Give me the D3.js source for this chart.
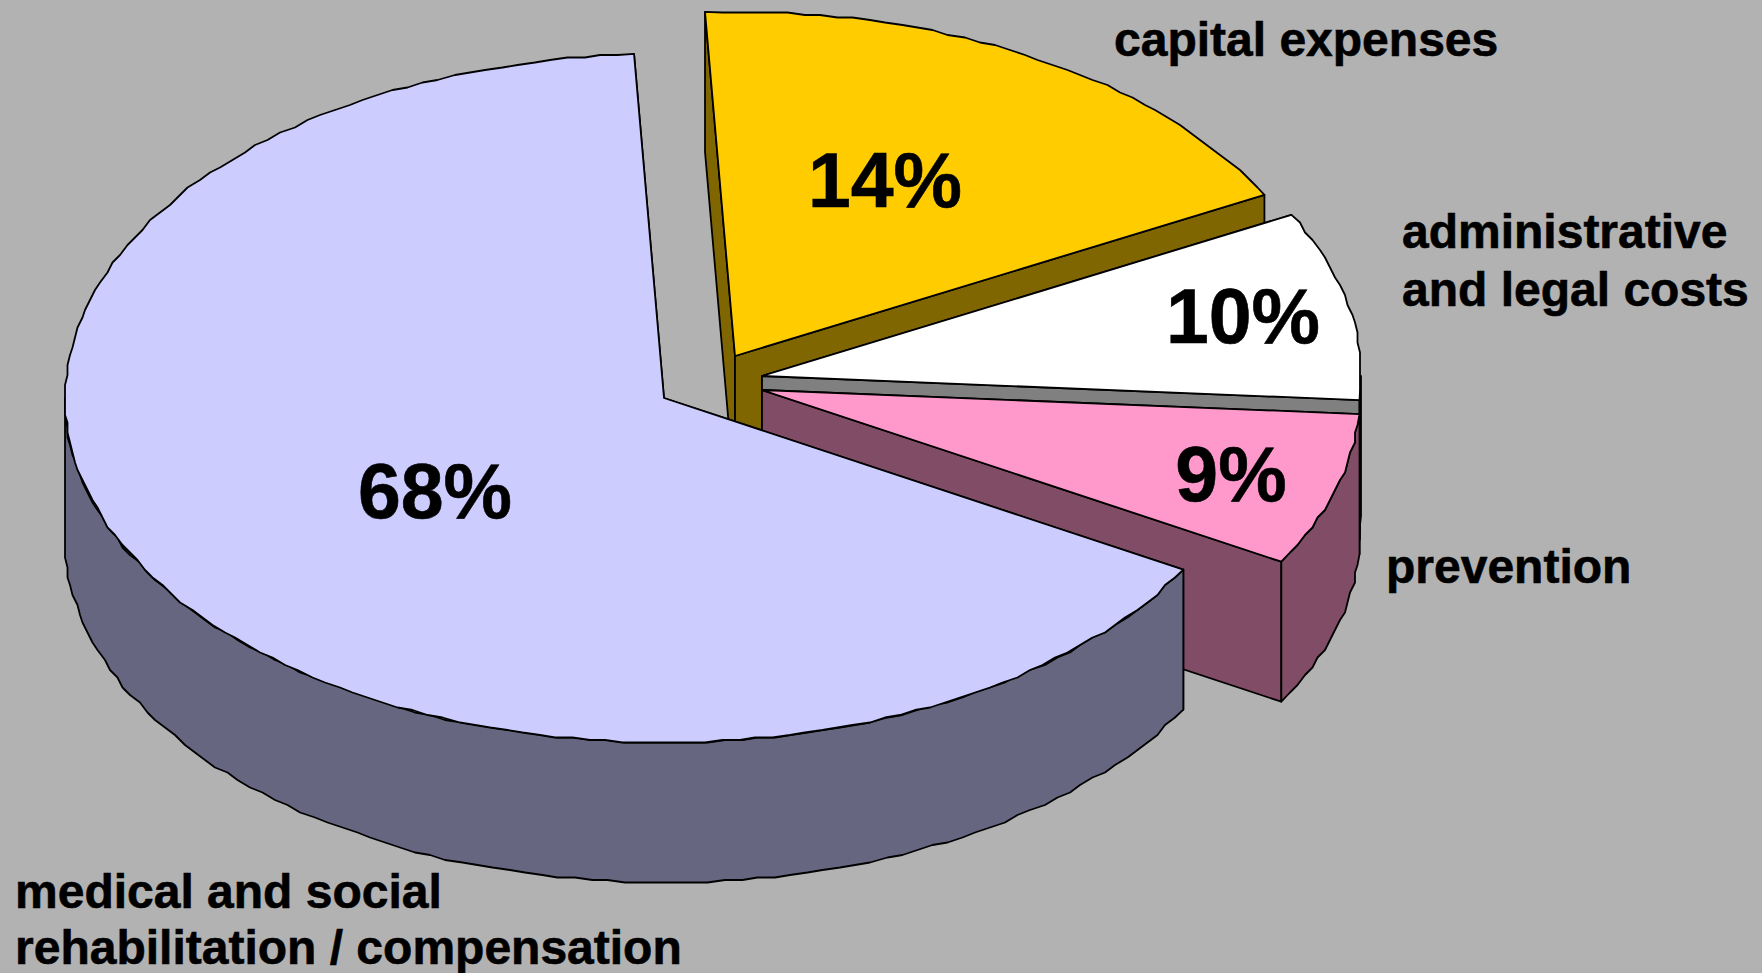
<!DOCTYPE html>
<html>
<head>
<meta charset="utf-8">
<style>
html,body{margin:0;padding:0;background:#B2B2B2;overflow:hidden}
svg{display:block}
text{font-family:"Liberation Sans",Arial,sans-serif;font-weight:bold;fill:#000;stroke:#000;stroke-width:.6px}
</style>
<script src="https://cdn.jsdelivr.net/npm/d3@7/dist/d3.min.js"></script>
</head>
<body>
<svg id="c" width="1762" height="973"></svg>
<script>
// Data, in clockwise drawing order from the top of the pie
const categories = ["capital expenses", "administrative and legal costs", "prevention", "medical and social rehabilitation / compensation"];
const percentLabels = [14, 10, 9, 68];            // printed on the slices
const sliceShares = [18.05, 8.86, 7.19, 65.9];    // share of the sweep as actually drawn in the picture
const topColors = ["#FFCC00", "#FFFFFF", "#FF99CC", "#CCCCFF"];
const sideColors = ["#806600", "#808080", "#804C66", "#666680"];

// Layout
const W = 1762, H = 973, RX = 599, RY = 344.5, DEPTH = 140, GRID = 2.5;
const apex = [[735,356],[762,376],[762,390],[664,398]];
const percentPos = [[885,207],[1243,343],[1231,501],[435,518]];
const PERCENT_SIZE = 77, NAME_SIZE = 48;
const nameLines = [
  [{t:"capital expenses",x:1114,y:56}],
  [{t:"administrative",x:1402,y:248},{t:"and legal costs",x:1402,y:306}],
  [{t:"prevention",x:1386,y:583}],
  [{t:"medical and social",x:15,y:908},{t:"rehabilitation / compensation",x:15,y:964}]
];

const rad = d => d * Math.PI / 180;
const svg = d3.select("#c");
svg.append("rect").attr("width",W).attr("height",H).attr("fill","#B2B2B2");

const pie = d3.pie().sort(null).startAngle(rad(-2.87)).endAngle(rad(357.13));
const arcs = pie(sliceShares);
const snap = v => Math.round(v / GRID) * GRID;
const line = d3.line();

function rim(i, a0, a1){
  const n = Math.max(1, Math.round((a1 - a0) / rad(1.6)));
  return d3.range(n + 1).map(k => {
    const a = a0 + (a1 - a0) * k / n;
    const px = apex[i][0] + RX * Math.sin(a), py = apex[i][1] - RY * Math.cos(a);
    return (k === 0 || k === n) ? [px, py] : [snap(px), snap(py)];
  });
}
const drop = pts => pts.map(p => [p[0], p[1] + DEPTH]);
const exact = (i, a) => [apex[i][0] + RX*Math.sin(a), apex[i][1] - RY*Math.cos(a)];

arcs.forEach((d, i) => {
  const g = svg.append("g");
  const c = apex[i], s = exact(i, d.startAngle), e = exact(i, d.endAngle);
  const cd = [c[0], c[1] + DEPTH];
  const face = (pts, fill) => g.append("path").attr("d", line(pts) + "Z")
    .attr("fill", fill).attr("stroke", "#000").attr("stroke-width", 1.8).attr("stroke-linejoin","round");
  // radial walls
  face([c, s, [s[0], s[1]+DEPTH], cd], sideColors[i]);
  face([c, e, [e[0], e[1]+DEPTH], cd], sideColors[i]);
  // outer wall: only the front-facing half of the rim
  const f0 = Math.max(d.startAngle, rad(90)), f1 = Math.min(d.endAngle, rad(270));
  if (f1 > f0) {
    const r = rim(i, f0, f1);
    face(r.concat(drop(r).reverse()), sideColors[i]);
  }
  // top
  face([c].concat(rim(i, d.startAngle, d.endAngle)), topColors[i]);
});

percentLabels.forEach((v, i) => {
  svg.append("text").attr("x", percentPos[i][0]).attr("y", percentPos[i][1])
    .attr("text-anchor","middle").attr("font-size", PERCENT_SIZE).text(v + "%");
});
nameLines.forEach(ls => ls.forEach(l => {
  svg.append("text").attr("x", l.x).attr("y", l.y).attr("font-size", NAME_SIZE).text(l.t);
}));
</script>
</body>
</html>
